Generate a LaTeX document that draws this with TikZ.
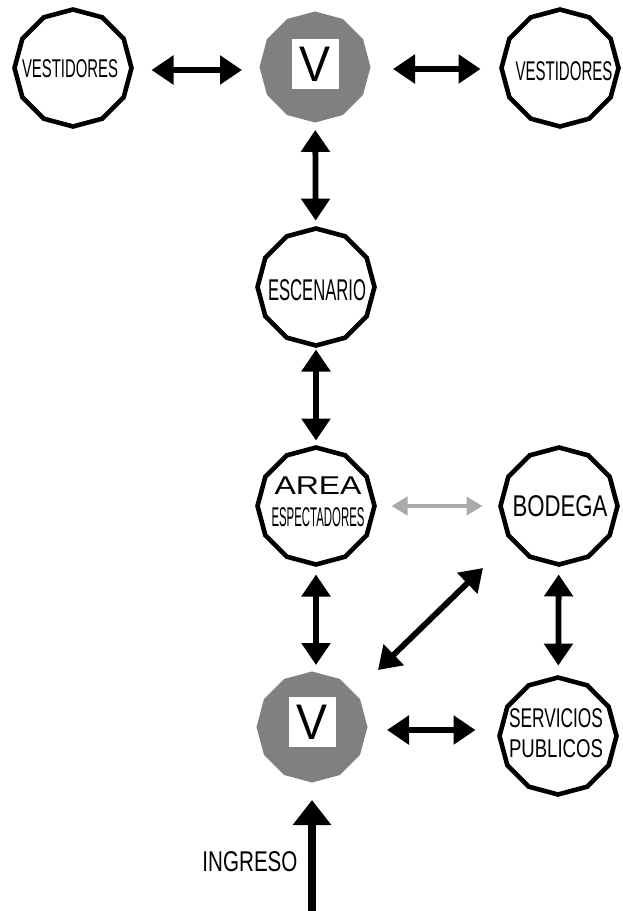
\documentclass[tikz,border=0pt]{standalone}
\usepackage{fontspec}
\setmainfont{Liberation Sans}
\usepackage{graphicx}
\usetikzlibrary{shapes.geometric,arrows.meta}
% text of width #1 pt set at font size #2 pt
\newcommand{\fitxt}[3]{\resizebox{#1pt}{\height}{\fontsize{#2pt}{#2pt}\selectfont #3}}
% zero-size centred label, shifted by (#1,#2) pt (y downwards)
\newcommand{\ctr}[3]{\raisebox{\dimexpr-.5\height-#2pt\relax}[0pt][0pt]{\makebox[0pt][c]{\hspace*{#1pt}\hspace*{#1pt}#3}}}
% two centred lines with baseline distance #3 pt
\newcommand{\twol}[3]{\vbox{\baselineskip=#3pt\lineskiplimit=-100pt\lineskip=0pt\hbox to 0pt{\hss#1\hss}\hbox to 0pt{\hss#2\hss}}}
\definecolor{vgray}{RGB}{128,128,128}
\definecolor{lgray}{RGB}{170,170,170}
\tikzset{
  room/.style={regular polygon, regular polygon sides=12, shape border rotate=15,
    minimum size=117pt, inner sep=0pt, outer sep=0pt, draw=black, line width=4.6pt, fill=white},
  vnode/.style={regular polygon, regular polygon sides=12, shape border rotate=15,
    minimum size=111pt, inner sep=0pt, outer sep=0pt, fill=vgray, draw=none},
  vbox/.style={rectangle, fill=white, minimum width=47pt, minimum height=50pt, inner sep=0pt},
  arr/.style={line width=5.8pt, draw=black,
    {Triangle[length=22pt,width=28pt]}-{Triangle[length=22pt,width=28pt]}},
  grayarr/.style={line width=4.5pt, draw=lgray,
    {Triangle[length=16pt,width=18pt]}-{Triangle[length=16pt,width=18pt]}},
  ingarr/.style={line width=8pt, draw=black, -{Triangle[length=25pt,width=37pt]}},
}
\begin{document}
\begin{tikzpicture}[x=1pt,y=-1pt]
\useasboundingbox (0,0) rectangle (622,911);
% rooms
\node[room] (vl) at (73,68) {\ctr{-3}{1}{\fitxt{96}{25.7}{VESTIDORES}}};
\node[vnode] (vt) at (315,67) {};
\node[vbox] (vtb) at (315,64) {\fitxt{31}{50}{V}};
\node[room] (vr) at (560,68) {\ctr{4}{3}{\fitxt{97}{27.1}{VESTIDORES}}};
\node[room] (esc) at (316,287) {\ctr{1}{3}{\fitxt{98}{30}{ESCENARIO}}};
\node[room] (area) at (316,506) {\ctr{2}{-4}{\twol{\fitxt{87}{25.7}{AREA}}{\fitxt{93}{27.1}{ESPECTADORES}}{32}}};
\node[room] (bod) at (559,506) {\ctr{1}{0}{\fitxt{95}{30}{BODEGA}}};
\node[vnode] (vb) at (312,727) {};
\node[vbox] (vbb) at (312,722) {\fitxt{31}{50}{V}};
\node[room] (serv) at (558,736) {\ctr{-2}{-3}{\twol{\fitxt{94}{27.1}{SERVICIOS}}{\fitxt{94}{25.7}{PUBLICOS}}{30}}};
\node[inner sep=0pt] (ingt) at (250,862) {\fitxt{95}{28.6}{INGRESO}};
% connectors
\draw[arr, shorten <=20pt, shorten >=17.5pt] ([yshift=-2pt]vl.east) -- ([yshift=-2pt]vl.east -| vt.west);
\draw[arr, shorten <=22.5pt, shorten >=21pt] ([yshift=-2pt]vt.east) -- ([yshift=-2pt]vt.east -| vr.west);
\draw[arr, shorten <=7.5pt, shorten >=8pt] (vt) -- (esc);
\draw[arr, shorten <=4pt, shorten >=7pt] (esc) -- (area);
\draw[arr, shorten <=10pt, shorten >=6.5pt] (area.south) -- (area.south |- vb.north);
\draw[arr, shorten <=10pt, shorten >=12pt] (bod) -- (serv);
\draw[arr, shorten <=19.5pt, shorten >=24pt] ([yshift=-3pt]vb.east) -- ([yshift=-3pt]vb.east -| serv.west);
\draw[grayarr, shorten <=17pt, shorten >=18pt] (area) -- (bod);
\coordinate (dA) at (378,670);
\coordinate (dB) at (483,568);
\draw[arr] (dA) -- (dB);
\coordinate (ing) at (312,911);
\draw[ingarr, shorten >=17.5pt] (ing) -- (vb.south);
\end{tikzpicture}
\end{document}
